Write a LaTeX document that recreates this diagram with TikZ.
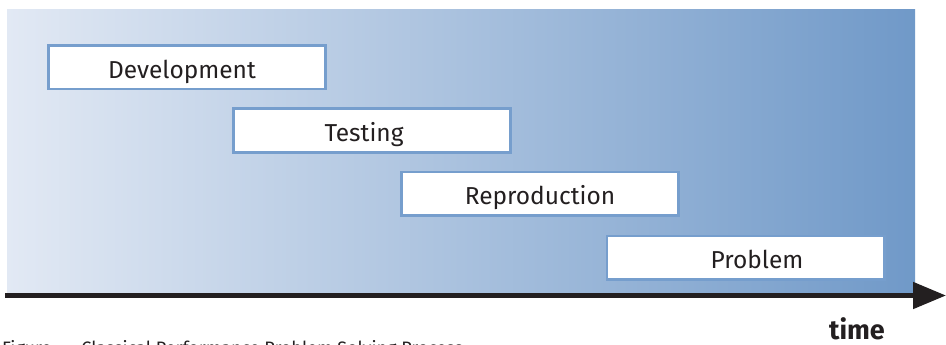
\documentclass[tikz,border=0pt]{standalone}
\usepackage{fontspec}
\setmainfont{Fira Sans}
\usetikzlibrary{arrows.meta}
\definecolor{bgL}{RGB}{226,233,244}
\definecolor{bgR}{RGB}{112,153,200}
\definecolor{boxBorder}{RGB}{118,158,205}
\definecolor{ink}{RGB}{35,31,32}
\begin{document}
\begin{tikzpicture}[x=1pt,y=-1pt,
  boxstyle/.style={draw=boxBorder, line width=2.7pt, fill=white, minimum width=277.3pt, minimum height=43.3pt, inner sep=0pt},
  lbl/.style={anchor=base, font=\fontsize{24.5}{28}\selectfont, text=ink, inner sep=0pt}]
\useasboundingbox (0,0) rectangle (946,345);
\shade[left color=bgL, right color=bgR] (7,10) rectangle (915,294);
\node[boxstyle] (dev) at (187,67.5) {};
\node[lbl] (devT) at (182,79) {Development};
\node[boxstyle] (test) at (372,130.5) {};
\node[lbl] (testT) at (364,141) {Testing};
\node[boxstyle] (repro) at (540,193.5) {};
\node[lbl] (reproT) at (540,204) {Reproduction};
\node[boxstyle] (prob) at (745.5,257.5) {};
\node[lbl] (probT) at (757,268) {Problem};
\coordinate (tStart) at (5,295.5);
\coordinate (tEnd) at (946,295.5);
\draw[line width=5pt, ink, -{Triangle[length=33pt,width=26pt]}] (tStart) -- (tEnd);
\node[anchor=base, font=\bfseries\fontsize{27}{30}\selectfont, text=ink, inner sep=0pt] (time) at (857,339.5) {time};
\node[anchor=base west, font=\fontsize{18}{20}\selectfont, text=ink, inner sep=0pt] (cap) at (2,354.5) {Figure\hspace{30pt}Classical Performance Problem Solving Process};
\end{tikzpicture}
\end{document}
